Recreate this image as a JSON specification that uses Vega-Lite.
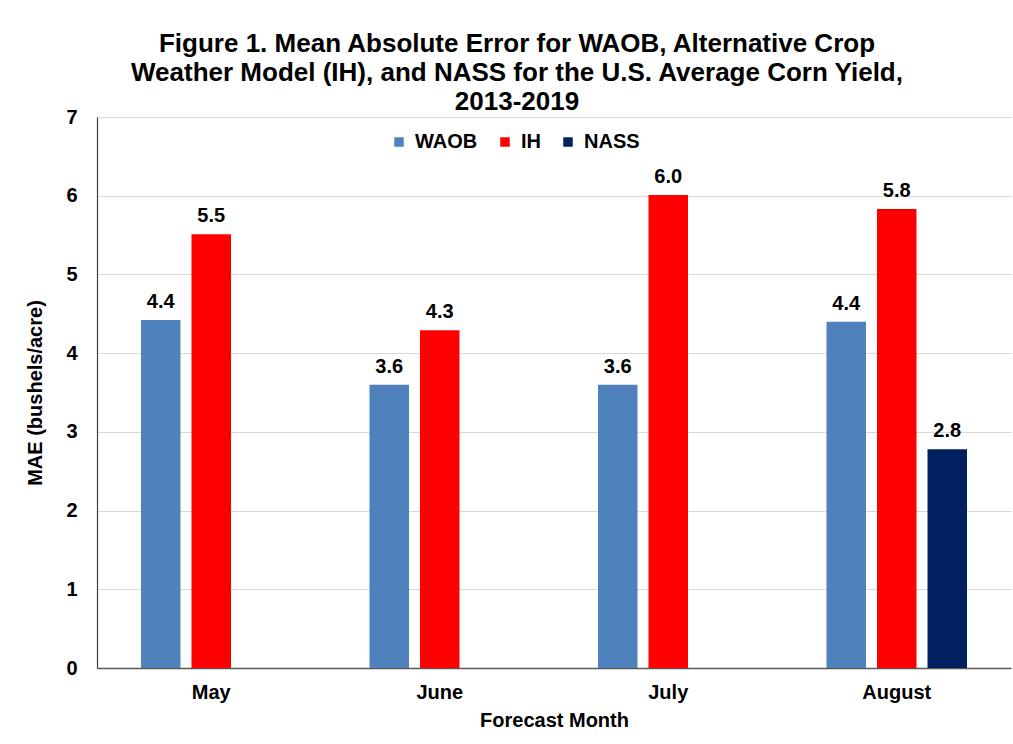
{
  "$schema": "https://vega.github.io/schema/vega-lite/v6.json",
  "autosize": "none",
  "width": 914,
  "height": 551,
  "padding": {"left": 97, "top": 117, "right": 2, "bottom": 76},
  "background": "white",
  "config": {
    "font": "Liberation Sans",
    "view": {"stroke": null}
  },
  "title": {
    "text": ["Figure 1. Mean Absolute Error for WAOB, Alternative Crop", "Weather Model (IH), and NASS for the U.S. Average Corn Yield,", "2013-2019"],
    "fontSize": 26,
    "fontWeight": "bold",
    "color": "black",
    "lineHeight": 29,
    "anchor": "middle",
    "dx": -37,
    "offset": -8
  },
  "data": {
    "values": [
      {"month": "May", "series": "WAOB", "mae": 4.42},
      {"month": "May", "series": "IH", "mae": 5.51},
      {"month": "June", "series": "WAOB", "mae": 3.6},
      {"month": "June", "series": "IH", "mae": 4.29},
      {"month": "July", "series": "WAOB", "mae": 3.6},
      {"month": "July", "series": "IH", "mae": 6.01},
      {"month": "August", "series": "WAOB", "mae": 4.4},
      {"month": "August", "series": "IH", "mae": 5.83},
      {"month": "August", "series": "NASS", "mae": 2.78}
    ]
  },
  "encoding": {
    "x": {
      "field": "month",
      "type": "nominal",
      "sort": ["May", "June", "July", "August"],
      "scale": {"paddingInner": 0, "paddingOuter": 0},
      "axis": {
        "title": "Forecast Month",
        "titleFontSize": 20,
        "titleFontWeight": "bold",
        "titleColor": "black",
        "titlePadding": 8,
        "labelFontSize": 20,
        "labelFontWeight": "bold",
        "labelColor": "black",
        "labelAngle": 0,
        "labelPadding": 14,
        "ticks": false,
        "domainColor": "#595959",
        "domainWidth": 1.5
      }
    },
    "xOffset": {
      "field": "series",
      "type": "nominal",
      "sort": ["WAOB", "IH", "NASS"],
      "scale": {"domain": ["WAOB", "IH", "NASS"], "paddingInner": 0.218, "paddingOuter": 0.871}
    },
    "y": {
      "field": "mae",
      "type": "quantitative",
      "scale": {"domain": [0, 7], "nice": false},
      "axis": {
        "title": "MAE (bushels/acre)",
        "titleFontSize": 20,
        "titleFontWeight": "bold",
        "titleColor": "black",
        "titlePadding": 20,
        "values": [0, 1, 2, 3, 4, 5, 6, 7],
        "format": "d",
        "labelFontSize": 20,
        "labelFontWeight": "bold",
        "labelColor": "black",
        "labelPadding": 20,
        "ticks": false,
        "grid": true,
        "gridColor": "#D9D9D9",
        "gridWidth": 1.2,
        "domain": true,
        "domainColor": "#404040",
        "domainWidth": 1.2
      }
    }
  },
  "layer": [
    {
      "mark": {"type": "bar"},
      "encoding": {
        "color": {
          "field": "series",
          "type": "nominal",
          "sort": ["WAOB", "IH", "NASS"],
          "scale": {"domain": ["WAOB", "IH", "NASS"], "range": ["#4F81BD", "#FF0000", "#002060"]},
          "legend": {
            "title": null,
            "orient": "none",
            "legendX": 292,
            "legendY": 15,
            "direction": "horizontal",
            "symbolType": "square",
            "symbolSize": 90,
            "symbolStrokeWidth": 0,
            "labelFontSize": 20,
            "labelFontWeight": "bold",
            "labelColor": "black",
            "labelOffset": 6,
            "columnPadding": 17,
            "padding": 0
          }
        }
      }
    },
    {
      "mark": {"type": "text", "baseline": "bottom", "dy": -8, "fontSize": 20, "fontWeight": "bold", "color": "black"},
      "encoding": {
        "text": {"field": "mae", "type": "quantitative", "format": ".1f"}
      }
    }
  ]
}
